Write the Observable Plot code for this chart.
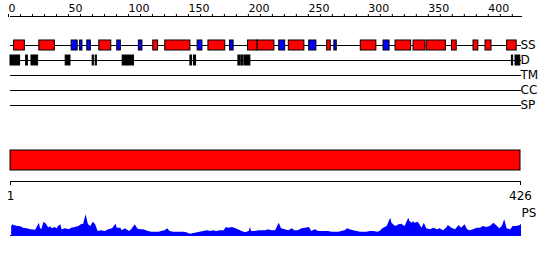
<!DOCTYPE html>
<html>
<head>
<meta charset="utf-8">
<script src="https://cdn.jsdelivr.net/npm/d3@7"></script>
<script src="https://cdn.jsdelivr.net/npm/@observablehq/plot@0.6"></script>
<style>
  html, body { margin: 0; padding: 0; background: #fff; }
  #chart { width: 550px; height: 260px; overflow: hidden; }
  #chart svg { display: block; }
</style>
</head>
<body>
<div id="chart"></div>
<script>
// ---- data ----
const seqLength = 426;
const tracks = ["SS", "D", "TM", "CC", "SP"];

// secondary structure elements: start, end, type (H = helix, E = strand)
const ssStart = [3, 24, 51, 58, 64, 74, 89, 107, 119, 129, 156, 165, 183, 198, 206, 224, 232, 249, 264, 270, 292, 311, 321, 336, 347, 368, 386, 396, 414];
const ssEnd   = [12, 37, 56, 60, 67, 84, 92, 110, 123, 150, 160, 179, 186, 206, 220, 229, 245, 255, 267, 272, 305, 316, 334, 346, 363, 372, 390, 401, 422];
const ssType  = ["H","H","E","E","E","H","E","E","H","H","E","H","E","H","H","E","H","E","H","E","H","E","H","H","H","H","H","H","H"];

// disordered regions
const dStart = [0, 13, 17.5, 46, 68.5, 71, 93.5, 150, 153, 190, 192.5, 195, 418, 421];
const dEnd   = [8, 14.5, 23, 50, 69.5, 72, 103, 151.4, 154.7, 191.7, 194, 200, 419, 425];

// PS profile (position, score)
const psPos = [1,2,3,6,8,11,14,17,21,24,25,26,28,30,32,33,35,37,39,40,42,43,46,49,51,54,57,59,61,63,65,67,69,71,73,76,79,82,85,88,89,92,93,96,99,101,104,106,108,111,115,118,121,124,126,129,131,133,136,139,142,144,147,150,153,156,158,161,164,167,169,172,175,178,180,182,185,188,190,193,196,199,200,201,204,207,210,213,215,218,221,224,226,229,232,235,237,240,243,246,249,250,251,254,257,260,263,265,268,271,274,276,279,281,283,286,289,292,294,297,300,303,306,308,311,314,317,318,321,324,326,329,332,333,335,336,337,340,343,345,347,350,353,356,358,361,364,365,368,371,374,376,379,381,383,386,389,392,394,397,400,403,406,408,410,412,414,417,419,422,425,426];
const psVal = [9,10.7,10,9,9,7.3,6.7,5.7,5.3,12.3,7.3,5.7,13.3,11.3,7.3,9,6.7,8,6.7,9,10.7,5.7,6.7,5.7,7.3,8,9,10.7,11.3,20.7,10.7,9,13.3,10.7,4,4.7,4,5.7,6.7,11.3,7.3,7.3,4.7,6.7,4,5.7,10.7,6.7,5.7,5.7,4,3.3,3.3,3.3,4,4.7,6.7,4,3.3,3.3,3.3,3.3,2.7,1.3,2,2.7,3.3,4,4.7,4,4.7,4,4.7,4.7,8,7.3,8,6.7,5.7,4,2.7,4,8,4,4,4.7,4.7,4.7,5.7,4.7,4.7,12.3,6.7,5.7,4.7,6.7,4.7,4.7,6.7,7.3,8,6.7,4,5.7,4,4,4,4,3.3,3.3,3.3,4,4.7,6.7,5.7,4.7,4,3.3,3.3,3.3,4,4,3.3,4,7.3,9,17.3,12.3,9,10.7,11.3,9,17.3,14,12.3,14,12.3,13.3,7.3,12.3,6.7,5.7,7.3,5.7,6.7,4.7,8,10,7.3,5.7,10,7.3,10.7,5.7,4.7,5.7,7.3,7.3,9,8,9,12.3,9,6.7,9,15.7,6.7,5.7,9,9,10,11.3];

// ---- tables built from the arrays ----
const ss = ssStart.map((s, i) => ({start: s, end: ssEnd[i], type: ssType[i], track: "SS"}));
const dis = dStart.map((s, i) => ({start: s, end: dEnd[i], track: "D"}));
const ps = psPos.map((p, i) => ({pos: p, score: psVal[i]}));
const ssColor = {H: "#ff0000", E: "#0000ff"};

const font = {fontFamily: "'DejaVu Sans', sans-serif", fontSize: "11px", background: "#fff", color: "#000", overflow: "visible"};

// ---- top: ruler + feature tracks ----
const topPlot = Plot.plot({
  width: 550, height: 115,
  marginTop: 16, marginLeft: 10, marginRight: 29, marginBottom: 0,
  style: font,
  x: {domain: [0, seqLength]},
  y: {type: "band", domain: tracks, range: [40, 110], paddingInner: 1/3, paddingOuter: 0, round: false, axis: null},
  marks: [
    Plot.frame({anchor: "top", stroke: "#000"}),
    Plot.axisX({anchor: "top", ticks: d3.range(0, seqLength, 10), tickSize: 3, tickPadding: 2,
      tickFormat: d => d % 50 === 0 ? String(d) : "", textAnchor: "start", dx: -2, fontSize: 11}),
    Plot.ruleY(tracks, {y: d => d, x1: 0, x2: seqLength, stroke: "#000", strokeWidth: 1}),
    Plot.barX(ss, {x1: "start", x2: "end", y: "track", fill: d => ssColor[d.type], stroke: "#000", strokeWidth: 1}),
    Plot.barX(dis, {x1: "start", x2: "end", y: "track", fill: "#000", stroke: "#000", strokeWidth: 1}),
    Plot.text(tracks, {x: seqLength, y: d => d, text: d => d, textAnchor: "start", dx: -1, fontSize: 12})
  ]
});

// ---- middle: full-length chain bar ----
const midPlot = Plot.plot({
  width: 550, height: 90,
  marginTop: 0, marginLeft: 10, marginRight: 30, marginBottom: 24,
  style: font,
  x: {domain: [1, seqLength]},
  y: {type: "band", domain: ["chain"], range: [35, 55], padding: 0, round: false, axis: null},
  marks: [
    Plot.barX([{start: 1, end: seqLength}], {x1: "start", x2: "end", y: () => "chain", fill: "#ff0000", stroke: "#000", strokeWidth: 1}),
    Plot.frame({anchor: "bottom", stroke: "#000"}),
    Plot.axisX({anchor: "bottom", ticks: [1, seqLength], tickSize: 4, tickPadding: 6, tickFormat: d => String(d), fontSize: 12})
  ]
});

// ---- bottom: PS profile ----
const botPlot = Plot.plot({
  width: 550, height: 55,
  marginTop: 9, marginLeft: 10, marginRight: 29, marginBottom: 25,
  style: font,
  x: {domain: [0, seqLength], axis: null},
  y: {domain: [0, 21], axis: null},
  marks: [
    Plot.areaY(ps, {x: "pos", y: "score", fill: "#0000ff", curve: "linear"}),
    Plot.ruleY([0], {stroke: "#0000ff"}),
    Plot.text(["PS"], {frameAnchor: "top-right", textAnchor: "start", dx: 0, dy: -6, fontSize: 12})
  ]
});

document.getElementById("chart").append(topPlot, midPlot, botPlot);
</script>
</body>
</html>
